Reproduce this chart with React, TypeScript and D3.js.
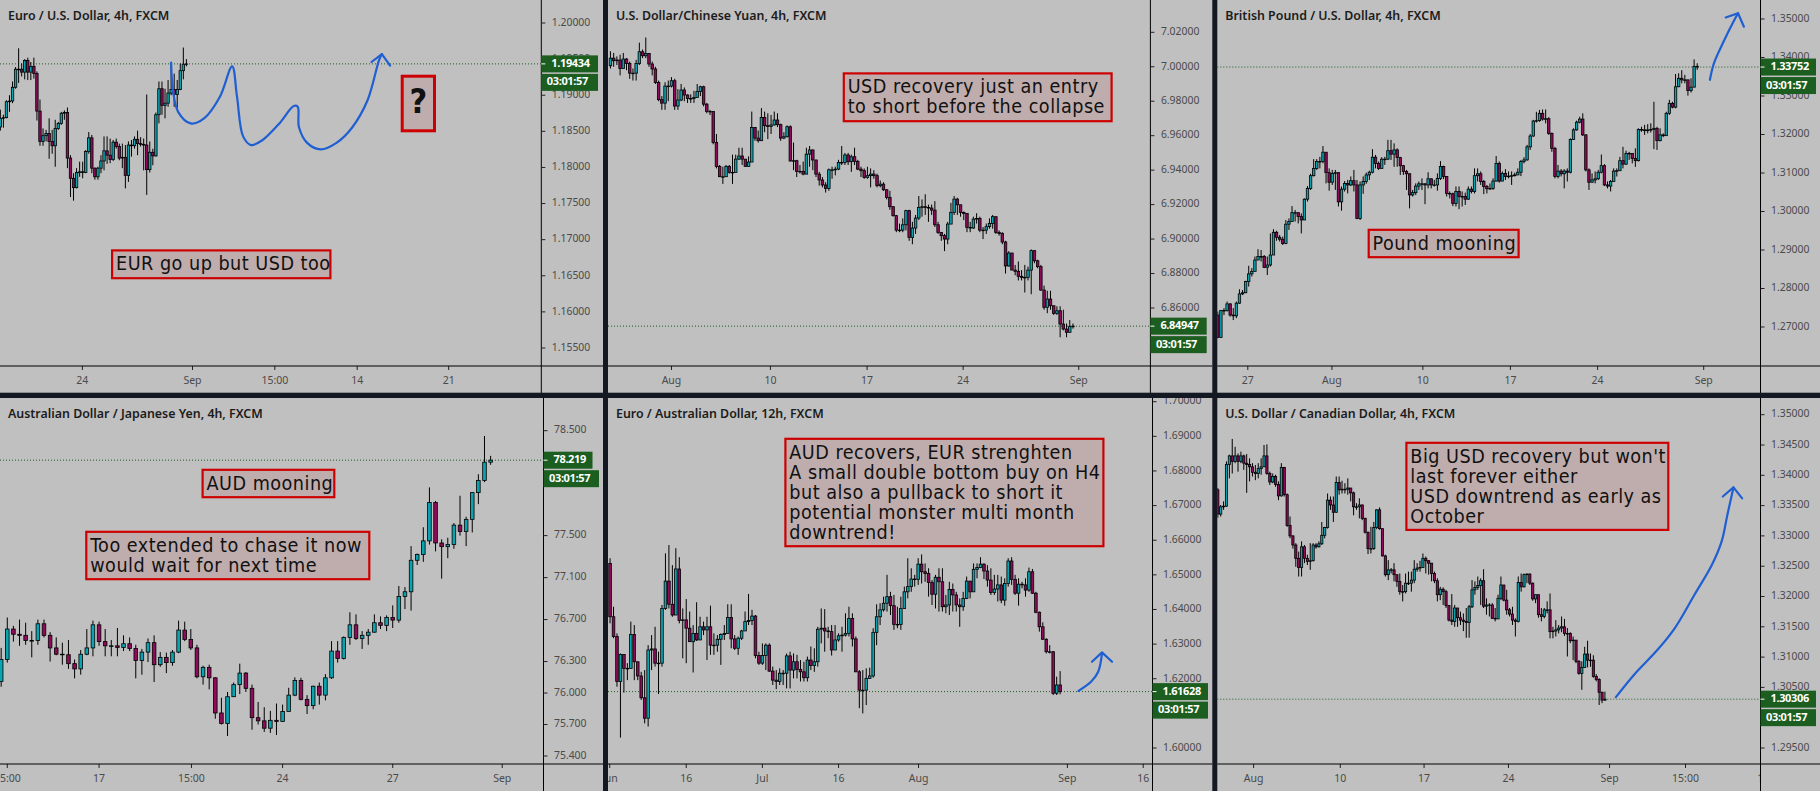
import * as d3 from "d3";

// ── Tokens ────────────────────────────────────────────────────────────────────

const BG = "#c0c0c0";
const DARK = "#141823";
const UP = "#0aa3b0";
const DOWN = "#8f0a5a";
const GREEN = "#1b5e20";
const BLUE = "#1f5fd2";
const RED = "#cc0000";
const NOTE_BG = "#bfadad";
const AXIS_TEXT = "#4a4a4a";
const SANS = "'Noto Sans', sans-serif";
const NOTE_FONT = "'DejaVu Sans Condensed', 'DejaVu Sans', sans-serif";
const COUNTDOWN = "03:01:57";

// ── EUR/USD 4h ────────────────────────────────────────────────────────────────

const eurOpen = 1.1856;
const eurClose = [
  1.1868, 1.1869, 1.1891, 1.1892, 1.1911, 1.1936, 1.1936, 1.1932, 1.1948, 1.1932,
  1.194, 1.193, 1.1878, 1.1836, 1.1844, 1.1847, 1.1836, 1.183, 1.1854, 1.1861,
  1.1875, 1.1876, 1.1813, 1.1785, 1.1772, 1.1793, 1.1794, 1.1793, 1.1822, 1.1841,
  1.1799, 1.1787, 1.1799, 1.1809, 1.1823, 1.1817, 1.1811, 1.1835, 1.1829, 1.1813,
  1.1814, 1.1789, 1.1831, 1.183, 1.1839, 1.1833, 1.1832, 1.1831, 1.1797, 1.1821,
  1.1816, 1.1873, 1.1909, 1.1886, 1.1889, 1.1903, 1.1908, 1.1901, 1.1908, 1.1934,
  1.1943, 1.19434,
];
const eurHigh = [
  1.188, 1.1873, 1.1893, 1.19, 1.1919, 1.1939, 1.1965, 1.1944, 1.195, 1.1952,
  1.1946, 1.1952, 1.1933, 1.1894, 1.1854, 1.1852, 1.1868, 1.1852, 1.1866, 1.1863,
  1.1877, 1.1879, 1.1883, 1.1817, 1.1792, 1.1799, 1.1808, 1.1808, 1.1824, 1.1849,
  1.1845, 1.18, 1.1801, 1.1817, 1.1843, 1.1843, 1.184, 1.1838, 1.184, 1.1833,
  1.1833, 1.1831, 1.1836, 1.1838, 1.1843, 1.1851, 1.1842, 1.184, 1.1901, 1.1836,
  1.1826, 1.1876, 1.1919, 1.1919, 1.1909, 1.1921, 1.1945, 1.193, 1.1921, 1.1944,
  1.1966, 1.195,
];
const eurLow = [
  1.1851, 1.1855, 1.1868, 1.1877, 1.1889, 1.1909, 1.1917, 1.1926, 1.1922, 1.1921,
  1.1921, 1.1923, 1.1865, 1.183, 1.183, 1.1836, 1.1812, 1.1819, 1.1801, 1.1852,
  1.1859, 1.1866, 1.1799, 1.1759, 1.1754, 1.1771, 1.1787, 1.1785, 1.1792, 1.1819,
  1.1792, 1.1783, 1.1783, 1.1792, 1.1796, 1.1805, 1.1806, 1.1809, 1.1826, 1.181,
  1.1799, 1.1771, 1.178, 1.1815, 1.1826, 1.1817, 1.1829, 1.1796, 1.1762, 1.1793,
  1.1803, 1.1815, 1.1861, 1.1873, 1.1868, 1.1884, 1.19, 1.1884, 1.1882, 1.1907,
  1.1922, 1.194,
];
const eurPriceTicks = [1.2, 1.195, 1.19, 1.185, 1.18, 1.175, 1.17, 1.165, 1.16, 1.155];
const eurTimeLabels = ["24", "Sep", "15:00", "14", "21"];
const eurTimeBars = [26.9, 63, 90, 117, 147];
const eurPathBars = [56, 56.6, 58.3, 62.4, 66.8, 72, 76, 77.6, 79.6, 82.2, 86, 91.7, 96.2, 97.5, 97.9, 100.6, 105.1, 110.2, 115.3, 120.4, 124.2, 125.1];
const eurPathPrices = [1.1945, 1.1907, 1.1877, 1.1861, 1.1868, 1.1898, 1.194, 1.1898, 1.1843, 1.1831, 1.1838, 1.1862, 1.1885, 1.1884, 1.1856, 1.1834, 1.1825, 1.1834, 1.1855, 1.1893, 1.1949, 1.1957];
const eurHeadBars = [121.7, 125.1, 127.8];
const eurHeadPrices = [1.1946, 1.1957, 1.1941];

// ── USD/CNH 4h ────────────────────────────────────────────────────────────────

const cnhOpen = 7.0006;
const cnhClose = [
  7.005, 7.0035, 7.0039, 6.999, 7.0045, 7.0019, 6.9963, 6.9963, 7.0019, 7.0087,
  7.0064, 7.0077, 7.0016, 6.9987, 6.9909, 6.9809, 6.9789, 6.9888, 6.9888, 6.9919,
  6.9772, 6.9807, 6.9865, 6.9836, 6.9816, 6.9816, 6.9822, 6.9857, 6.9884, 6.9783,
  6.9741, 6.9741, 6.9561, 6.9422, 6.9362, 6.9362, 6.9422, 6.9387, 6.9387, 6.9464,
  6.9482, 6.9464, 6.9422, 6.9447, 6.9648, 6.9586, 6.9571, 6.9706, 6.9658, 6.9654,
  6.9662, 6.9691, 6.9664, 6.9586, 6.9594, 6.9652, 6.9453, 6.9455, 6.9393, 6.9393,
  6.9377, 6.9493, 6.9517, 6.9459, 6.9377, 6.9343, 6.9314, 6.9294, 6.9402, 6.9402,
  6.9406, 6.9445, 6.9445, 6.9488, 6.9449, 6.9478, 6.9451, 6.9406, 6.9397, 6.9358,
  6.9368, 6.9377, 6.9368, 6.931, 6.9319, 6.9286, 6.9242, 6.9188, 6.9136, 6.9052,
  6.9052, 6.9083, 6.9165, 6.901, 6.9064, 6.9122, 6.9184, 6.9188, 6.9184, 6.918,
  6.9168, 6.9083, 6.9039, 6.902, 6.9, 6.9087, 6.9155, 6.9232, 6.9199, 6.9155,
  6.9149, 6.9068, 6.9064, 6.9116, 6.912, 6.9052, 6.9052, 6.9072, 6.9091, 6.913,
  6.9039, 6.9033, 6.8983, 6.8844, 6.8919, 6.882, 6.8813, 6.8784, 6.8778, 6.8778,
  6.882, 6.8933, 6.8874, 6.884, 6.8704, 6.8604, 6.8652, 6.8613, 6.8569, 6.8584,
  6.8507, 6.8478, 6.8459, 6.8492, 6.84947,
];
const cnhHigh = [
  7.009, 7.008, 7.006, 7.007, 7.008, 7.005, 7.003, 6.999, 7.004, 7.014,
  7.01, 7.017, 7.008, 7.003, 7.0, 6.992, 6.983, 6.991, 6.992, 6.994,
  6.993, 6.987, 6.99, 6.988, 6.984, 6.984, 6.986, 6.99, 6.989, 6.989,
  6.979, 6.975, 6.974, 6.961, 6.943, 6.942, 6.943, 6.943, 6.949, 6.949,
  6.953, 6.953, 6.945, 6.948, 6.974, 6.965, 6.963, 6.976, 6.974, 6.973,
  6.972, 6.974, 6.973, 6.967, 6.962, 6.966, 6.966, 6.956, 6.946, 6.943,
  6.945, 6.953, 6.954, 6.952, 6.946, 6.939, 6.936, 6.933, 6.941, 6.942,
  6.942, 6.946, 6.954, 6.95, 6.95, 6.949, 6.953, 6.946, 6.942, 6.941,
  6.942, 6.941, 6.94, 6.938, 6.934, 6.933, 6.929, 6.928, 6.919, 6.914,
  6.909, 6.912, 6.917, 6.917, 6.91, 6.914, 6.925, 6.923, 6.926, 6.92,
  6.92, 6.922, 6.91, 6.904, 6.903, 6.91, 6.921, 6.925, 6.924, 6.919,
  6.916, 6.915, 6.91, 6.913, 6.915, 6.913, 6.907, 6.909, 6.912, 6.914,
  6.913, 6.905, 6.904, 6.899, 6.893, 6.892, 6.885, 6.887, 6.882, 6.885,
  6.884, 6.894, 6.893, 6.888, 6.885, 6.873, 6.87, 6.87, 6.861, 6.861,
  6.861, 6.859, 6.851, 6.853, 6.851,
];
const cnhLow = [
  6.999, 7.0, 7.001, 6.995, 6.999, 6.998, 6.993, 6.992, 6.992, 7.001,
  7.005, 7.005, 7.0, 6.995, 6.99, 6.98, 6.975, 6.975, 6.98, 6.988,
  6.975, 6.975, 6.98, 6.98, 6.979, 6.979, 6.979, 6.982, 6.983, 6.977,
  6.973, 6.972, 6.955, 6.941, 6.936, 6.932, 6.938, 6.938, 6.932, 6.939,
  6.946, 6.943, 6.942, 6.942, 6.945, 6.957, 6.956, 6.957, 6.962, 6.958,
  6.961, 6.966, 6.965, 6.957, 6.958, 6.959, 6.945, 6.94, 6.936, 6.938,
  6.937, 6.938, 6.942, 6.94, 6.936, 6.931, 6.93, 6.927, 6.928, 6.935,
  6.937, 6.94, 6.943, 6.943, 6.943, 6.939, 6.943, 6.94, 6.936, 6.935,
  6.935, 6.93, 6.935, 6.93, 6.93, 6.928, 6.923, 6.917, 6.913, 6.904,
  6.904, 6.904, 6.905, 6.899, 6.897, 6.903, 6.911, 6.913, 6.914, 6.91,
  6.914, 6.907, 6.903, 6.899, 6.893, 6.897, 6.909, 6.914, 6.914, 6.913,
  6.911, 6.904, 6.904, 6.906, 6.909, 6.904, 6.9, 6.903, 6.906, 6.906,
  6.903, 6.902, 6.897, 6.88, 6.884, 6.882, 6.879, 6.876, 6.876, 6.869,
  6.876, 6.868, 6.886, 6.883, 6.87, 6.859, 6.857, 6.859, 6.856, 6.856,
  6.843, 6.847, 6.843, 6.846, 6.848,
];
const cnhPriceTicks = [7.02, 7.0, 6.98, 6.96, 6.94, 6.92, 6.9, 6.88, 6.86];
const cnhTimeLabels = ["Aug", "10", "17", "24", "Sep"];
const cnhTimeBars = [19, 49.8, 79.9, 109.8, 145.8];

// ── GBP/USD 4h ────────────────────────────────────────────────────────────────

const gbpOpen = 1.2731;
const gbpClose = [
  1.2673, 1.2743, 1.2743, 1.276, 1.2731, 1.2729, 1.2762, 1.2786, 1.2789, 1.2818,
  1.2838, 1.2844, 1.2874, 1.2883, 1.2883, 1.2855, 1.2861, 1.2887, 1.2946, 1.2933,
  1.2928, 1.2917, 1.2967, 1.2974, 1.2997, 1.2997, 1.2987, 1.2978, 1.3032, 1.306,
  1.3093, 1.3112, 1.313, 1.313, 1.3154, 1.3101, 1.3076, 1.3099, 1.3101, 1.3025,
  1.3058, 1.3073, 1.3069, 1.308, 1.3069, 1.2982, 1.3069, 1.3078, 1.3095, 1.3102,
  1.3141, 1.3125, 1.3112, 1.3136, 1.3136, 1.3158, 1.3149, 1.316, 1.314, 1.3119,
  1.3104, 1.3098, 1.3043, 1.3049, 1.3066, 1.3072, 1.3072, 1.3069, 1.3085, 1.3069,
  1.3069, 1.3086, 1.3117, 1.3091, 1.3047, 1.3046, 1.3021, 1.3052, 1.3039, 1.3039,
  1.3032, 1.3058, 1.3052, 1.3093, 1.3098, 1.3078, 1.3065, 1.3059, 1.306, 1.3079,
  1.3125, 1.3079, 1.3099, 1.3091, 1.3092, 1.3093, 1.3095, 1.3102, 1.313, 1.3134,
  1.3168, 1.3196, 1.3235, 1.3236, 1.3255, 1.324, 1.3241, 1.3203, 1.3164, 1.3091,
  1.3105, 1.3098, 1.3105, 1.3102, 1.3187, 1.3212, 1.3232, 1.324, 1.3199, 1.3108,
  1.3076, 1.3082, 1.3085, 1.3102, 1.3119, 1.3069, 1.3066, 1.3078, 1.3105, 1.3106,
  1.3132, 1.3123, 1.3151, 1.3151, 1.3138, 1.3132, 1.3213, 1.3212, 1.321, 1.3212,
  1.3213, 1.3216, 1.3184, 1.3199, 1.3197, 1.3255, 1.3281, 1.3271, 1.3324, 1.3346,
  1.3342, 1.3342, 1.3314, 1.3323, 1.3377, 1.33752,
];
const gbpHigh = [
  1.274, 1.2744, 1.2749, 1.2766, 1.2762, 1.2749, 1.2766, 1.2798, 1.2796, 1.282,
  1.2859, 1.2853, 1.2883, 1.2902, 1.29, 1.2887, 1.2883, 1.2943, 1.2954, 1.295,
  1.2939, 1.2935, 1.2978, 1.2982, 1.3014, 1.3004, 1.2995, 1.2995, 1.3034, 1.3066,
  1.3098, 1.3136, 1.3136, 1.3142, 1.317, 1.3153, 1.3112, 1.3108, 1.3108, 1.3101,
  1.3065, 1.3079, 1.3082, 1.3091, 1.3108, 1.3082, 1.3078, 1.3091, 1.3101, 1.3106,
  1.3162, 1.3147, 1.313, 1.3141, 1.3142, 1.3186, 1.3186, 1.3177, 1.3164, 1.3142,
  1.3121, 1.3108, 1.3099, 1.3056, 1.3073, 1.3078, 1.3086, 1.3073, 1.3102, 1.3086,
  1.3082, 1.3099, 1.3131, 1.3119, 1.3092, 1.3052, 1.3049, 1.3065, 1.3065, 1.3052,
  1.3049, 1.3065, 1.3065, 1.3112, 1.3112, 1.3104, 1.3082, 1.3069, 1.3073, 1.3086,
  1.3144, 1.313, 1.3104, 1.311, 1.3104, 1.3104, 1.3101, 1.3112, 1.3134, 1.3141,
  1.3173, 1.3201, 1.3238, 1.3259, 1.3264, 1.3265, 1.3265, 1.3245, 1.3205, 1.3168,
  1.3121, 1.311, 1.311, 1.3112, 1.319, 1.3216, 1.3236, 1.3246, 1.3255, 1.3201,
  1.3112, 1.3099, 1.3104, 1.3108, 1.3148, 1.3123, 1.3078, 1.3082, 1.3112, 1.3112,
  1.3142, 1.3168, 1.3158, 1.3155, 1.3151, 1.3164, 1.3216, 1.322, 1.3225, 1.3227,
  1.3229, 1.3285, 1.322, 1.3216, 1.3203, 1.3259, 1.329, 1.3285, 1.3357, 1.3359,
  1.3367, 1.3355, 1.3342, 1.3346, 1.3395, 1.3385,
];
const gbpLow = [
  1.2671, 1.2673, 1.2731, 1.274, 1.2727, 1.2718, 1.2723, 1.276, 1.2783, 1.2788,
  1.2805, 1.2831, 1.2853, 1.2874, 1.287, 1.2853, 1.2835, 1.2857, 1.2887, 1.2924,
  1.2922, 1.2913, 1.2915, 1.2952, 1.2974, 1.2974, 1.2969, 1.2943, 1.2978, 1.3026,
  1.3056, 1.3091, 1.3108, 1.3112, 1.3125, 1.3073, 1.3054, 1.3069, 1.3056, 1.3013,
  1.3002, 1.3052, 1.3047, 1.3066, 1.3052, 1.298, 1.2978, 1.3046, 1.3072, 1.3082,
  1.3099, 1.3112, 1.3108, 1.3112, 1.3121, 1.3134, 1.3134, 1.3116, 1.3116, 1.3095,
  1.3095, 1.3056, 1.3008, 1.3039, 1.3043, 1.3056, 1.3056, 1.3019, 1.306, 1.306,
  1.3065, 1.3054, 1.3082, 1.3084, 1.3039, 1.3034, 1.3014, 1.3013, 1.3006, 1.3013,
  1.3017, 1.303, 1.3047, 1.3047, 1.3078, 1.3069, 1.3045, 1.3047, 1.3056, 1.3056,
  1.3078, 1.3075, 1.3082, 1.3082, 1.3086, 1.3069, 1.3091, 1.3098, 1.3092, 1.3125,
  1.3132, 1.316, 1.3194, 1.3231, 1.3233, 1.3236, 1.3229, 1.3199, 1.3155, 1.3086,
  1.3086, 1.3091, 1.306, 1.3078, 1.3099, 1.3186, 1.321, 1.3229, 1.3196, 1.3104,
  1.3056, 1.3075, 1.3073, 1.3082, 1.3099, 1.3066, 1.306, 1.3052, 1.3078, 1.3091,
  1.3108, 1.3112, 1.3121, 1.3134, 1.3125, 1.3116, 1.313, 1.3207, 1.3199, 1.3203,
  1.3205, 1.3162, 1.316, 1.3182, 1.3193, 1.3196, 1.3251, 1.3268, 1.3268, 1.3323,
  1.3333, 1.3333, 1.3301, 1.3309, 1.3323, 1.3368,
];
const gbpPriceTicks = [1.35, 1.34, 1.33, 1.32, 1.31, 1.3, 1.29, 1.28, 1.27];
const gbpTimeLabels = ["27", "Aug", "10", "17", "24", "Sep"];
const gbpTimeBars = [9.7, 36.9, 66.3, 94.6, 122.8, 157.1];
const gbpPathBars = [159.1, 160.4, 163.5, 166.7, 168.2];
const gbpPathPrices = [1.3342, 1.3385, 1.3441, 1.3493, 1.3515];
const gbpHeadBars = [164.2, 168.2, 170.1];
const gbpHeadPrices = [1.3504, 1.3515, 1.348];

// ── AUD/JPY 4h ────────────────────────────────────────────────────────────────

const audOpen = 76.11;
const audClose = [
  76.32, 76.61, 76.56, 76.55, 76.5, 76.5, 76.66, 76.55, 76.43, 76.37,
  76.365, 76.28, 76.23, 76.37, 76.43, 76.65, 76.49, 76.45, 76.45, 76.435,
  76.47, 76.425, 76.31, 76.39, 76.48, 76.27, 76.34, 76.29, 76.39, 76.6,
  76.51, 76.43, 76.155, 76.245, 76.145, 75.81, 75.71, 75.965, 76.08, 76.19,
  76.045, 75.765, 75.735, 75.665, 75.74, 75.73, 75.825, 75.98, 76.12, 75.94,
  75.88, 76.065, 75.98, 76.145, 76.4, 76.33, 76.53, 76.65, 76.52, 76.55,
  76.58, 76.67, 76.645, 76.72, 76.695, 76.92, 76.965, 77.265, 77.32, 77.45,
  77.815, 77.43, 77.395, 77.415, 77.6, 77.54, 77.655, 77.91, 78.025, 78.2, 78.219,
];
const audHigh = [
  76.43, 76.72, 76.64, 76.7, 76.67, 76.59, 76.7, 76.7, 76.58, 76.53,
  76.48, 76.505, 76.32, 76.41, 76.61, 76.69, 76.68, 76.61, 76.505, 76.62,
  76.55, 76.53, 76.46, 76.42, 76.52, 76.55, 76.39, 76.385, 76.41, 76.69,
  76.68, 76.61, 76.46, 76.26, 76.27, 76.15, 75.955, 76.01, 76.1, 76.28,
  76.2, 76.08, 75.915, 75.865, 75.83, 75.9, 75.89, 76.05, 76.15, 76.145,
  75.98, 76.07, 76.1, 76.18, 76.495, 76.495, 76.54, 76.77, 76.75, 76.59,
  76.61, 76.75, 76.73, 76.74, 76.835, 77.02, 77.01, 77.4, 77.33, 77.58,
  77.96, 77.83, 77.465, 77.48, 77.62, 77.88, 77.68, 77.915, 78.085, 78.45, 78.26,
];
const audLow = [
  76.06, 76.29, 76.49, 76.45, 76.46, 76.34, 76.46, 76.53, 76.3, 76.36,
  76.27, 76.23, 76.14, 76.175, 76.36, 76.35, 76.45, 76.35, 76.35, 76.35,
  76.4, 76.4, 76.14, 76.175, 76.295, 76.105, 76.25, 76.19, 76.26, 76.38,
  76.495, 76.41, 76.14, 76.08, 76.035, 75.755, 75.7, 75.59, 75.965, 75.99,
  76.01, 75.65, 75.7, 75.63, 75.62, 75.6, 75.725, 75.825, 75.97, 75.93,
  75.8, 75.845, 75.89, 75.93, 76.135, 76.29, 76.32, 76.46, 76.505, 76.42,
  76.46, 76.575, 76.61, 76.59, 76.62, 76.67, 76.8, 76.785, 77.22, 77.25,
  77.415, 77.35, 77.09, 77.285, 77.375, 77.5, 77.4, 77.53, 77.8, 78.01, 78.175,
];
const audPriceTicks = [78.5, 77.5, 77.1, 76.7, 76.3, 76.0, 75.7, 75.4];
const audTimeLabels = ["15:00", "17", "15:00", "24", "27", "Sep"];
const audTimeBars = [1, 16, 31.1, 46, 64, 81.9];

// ── EUR/AUD 12h ───────────────────────────────────────────────────────────────

const euaOpen = 1.6533;
const euaClose = [
  1.6379, 1.6322, 1.6192, 1.627, 1.623, 1.623, 1.6328, 1.6249, 1.6208, 1.6145,
  1.6086, 1.6283, 1.6286, 1.6245, 1.6245, 1.6403, 1.6482, 1.6415, 1.6384, 1.6517,
  1.6368, 1.637, 1.6346, 1.6307, 1.6331, 1.6312, 1.635, 1.6341, 1.635, 1.6297,
  1.6297, 1.6314, 1.6328, 1.6331, 1.6377, 1.6315, 1.6288, 1.6317, 1.6338, 1.6365,
  1.6368, 1.6381, 1.6267, 1.6245, 1.6267, 1.6297, 1.6222, 1.6196, 1.6192, 1.6216,
  1.6216, 1.6266, 1.6225, 1.6249, 1.6227, 1.622, 1.6203, 1.6254, 1.6238, 1.6249,
  1.6343, 1.6346, 1.6338, 1.6336, 1.6283, 1.6312, 1.6324, 1.6326, 1.6331, 1.6374,
  1.6315, 1.622, 1.6167, 1.6167, 1.6201, 1.6208, 1.6334, 1.6379, 1.6399, 1.6418,
  1.6437, 1.6411, 1.6357, 1.6357, 1.6403, 1.6451, 1.6466, 1.6488, 1.6487, 1.6531,
  1.6509, 1.6504, 1.6478, 1.6444, 1.6493, 1.648, 1.6408, 1.6413, 1.6458, 1.6442,
  1.6413, 1.6408, 1.6432, 1.6482, 1.6451, 1.6516, 1.6521, 1.6531, 1.6511, 1.6485,
  1.6449, 1.6459, 1.6471, 1.6427, 1.6475, 1.654, 1.6487, 1.6447, 1.6473, 1.6471,
  1.6456, 1.6509, 1.6447, 1.6392, 1.635, 1.6314, 1.6278, 1.6278, 1.6158, 1.6182,
  1.61628,
];
const euaHigh = [
  1.6548, 1.6408, 1.6331, 1.6273, 1.627, 1.6245, 1.6365, 1.6355, 1.6249, 1.622,
  1.6225, 1.6297, 1.6326, 1.635, 1.6278, 1.6413, 1.6562, 1.6586, 1.6528, 1.6577,
  1.6551, 1.6403, 1.643, 1.6394, 1.6355, 1.6421, 1.6379, 1.6365, 1.6379, 1.6411,
  1.6331, 1.6326, 1.6331, 1.6355, 1.6415, 1.6415, 1.6326, 1.6322, 1.6341, 1.6394,
  1.6445, 1.6399, 1.6384, 1.6278, 1.6302, 1.6302, 1.6302, 1.6235, 1.6225, 1.623,
  1.6225, 1.6273, 1.6278, 1.6273, 1.6269, 1.6254, 1.6249, 1.6264, 1.6293, 1.6288,
  1.635, 1.6403, 1.6401, 1.635, 1.6355, 1.6355, 1.6331, 1.635, 1.6389, 1.6408,
  1.6389, 1.6322, 1.6225, 1.6225, 1.623, 1.6232, 1.6346, 1.6415, 1.6418, 1.6437,
  1.65, 1.6451, 1.6442, 1.6408, 1.6437, 1.6466, 1.6548, 1.6519, 1.65, 1.6548,
  1.6559, 1.6533, 1.6519, 1.6485, 1.65, 1.6519, 1.6519, 1.6442, 1.648, 1.6475,
  1.6451, 1.6432, 1.6451, 1.6495, 1.6482, 1.6533, 1.6533, 1.6551, 1.6533, 1.6528,
  1.6519, 1.65, 1.65, 1.6495, 1.649, 1.6548, 1.6551, 1.65, 1.649, 1.648,
  1.649, 1.6521, 1.6517, 1.6451, 1.6394, 1.6363, 1.6317, 1.6297, 1.628, 1.6206,
  1.6222,
];
const euaLow = [
  1.636, 1.6317, 1.6177, 1.603, 1.616, 1.6196, 1.624, 1.6196, 1.6196, 1.6139,
  1.6071, 1.6062, 1.6225, 1.6235, 1.6156, 1.6235, 1.6399, 1.6403, 1.6379, 1.6403,
  1.636, 1.6259, 1.6245, 1.6307, 1.6218, 1.6309, 1.6312, 1.6326, 1.6254, 1.6269,
  1.6269, 1.6278, 1.624, 1.6312, 1.6331, 1.6288, 1.6283, 1.6269, 1.6312, 1.6341,
  1.6355, 1.6355, 1.6259, 1.624, 1.624, 1.6225, 1.622, 1.6182, 1.617, 1.6182,
  1.6182, 1.6172, 1.6172, 1.6201, 1.6201, 1.6192, 1.6192, 1.6192, 1.6225, 1.622,
  1.6235, 1.6302, 1.6278, 1.6317, 1.6267, 1.6283, 1.6307, 1.6278, 1.6322, 1.6322,
  1.6293, 1.6219, 1.6115, 1.61, 1.6124, 1.6201, 1.6203, 1.6297, 1.6355, 1.6394,
  1.6394, 1.6384, 1.6341, 1.6346, 1.6341, 1.6403, 1.6432, 1.6451, 1.6466, 1.6471,
  1.6475, 1.648, 1.6437, 1.6413, 1.6403, 1.6394, 1.6394, 1.6389, 1.6384, 1.6394,
  1.6394, 1.635, 1.6396, 1.643, 1.6432, 1.6451, 1.649, 1.6519, 1.6488, 1.6466,
  1.6442, 1.6442, 1.6423, 1.6418, 1.6411, 1.6466, 1.6471, 1.6442, 1.6411, 1.6461,
  1.6437, 1.6451, 1.6445, 1.6389, 1.6336, 1.6312, 1.6273, 1.6273, 1.6153, 1.6153,
  1.6155,
];
const euaPriceTicks = [1.7, 1.69, 1.68, 1.67, 1.66, 1.65, 1.64, 1.63, 1.62, 1.6];
const euaTimeLabels = ["Jun", "16", "Jul", "16", "Aug", "Sep", "16"];
const euaTimeBars = [-0.1, 22, 44, 66, 89.1, 132.1, 154];
const euaPathBars = [135.3, 139, 141, 142.1];
const euaPathPrices = [1.6165, 1.6192, 1.622, 1.6273];
const euaHeadBars = [139.2, 142.1, 145];
const euaHeadPrices = [1.6249, 1.6276, 1.6249];

// ── USD/CAD 4h ────────────────────────────────────────────────────────────────

const cadOpen = 1.3376;
const cadClose = [
  1.3336, 1.3348, 1.3349, 1.3418, 1.3432, 1.3423, 1.3432, 1.3423, 1.3432, 1.342,
  1.3418, 1.3414, 1.3405, 1.3403, 1.3411, 1.3414, 1.3432, 1.3403, 1.3389, 1.3398,
  1.3385, 1.3366, 1.3413, 1.3368, 1.3317, 1.33, 1.3285, 1.3263, 1.3248, 1.3282,
  1.3263, 1.3258, 1.3259, 1.3285, 1.3282, 1.3287, 1.3301, 1.3314, 1.3359, 1.3351,
  1.3339, 1.3388, 1.3376, 1.3377, 1.3377, 1.3379, 1.3371, 1.3348, 1.3348, 1.3351,
  1.3329, 1.3306, 1.3279, 1.3279, 1.3314, 1.3343, 1.3312, 1.3267, 1.3236, 1.3244,
  1.3244, 1.3236, 1.3225, 1.3208, 1.3208, 1.3222, 1.3222, 1.3227, 1.3245, 1.3247,
  1.3248, 1.3263, 1.3259, 1.3255, 1.3238, 1.3226, 1.3203, 1.3212, 1.3208, 1.3185,
  1.3161, 1.3159, 1.3181, 1.3165, 1.3161, 1.3159, 1.3157, 1.3183, 1.3211, 1.3215,
  1.3218, 1.3226, 1.3184, 1.3186, 1.3186, 1.3164, 1.3163, 1.3197, 1.3219, 1.3194,
  1.3178, 1.3171, 1.3161, 1.3159, 1.3223, 1.3216, 1.3236, 1.3237, 1.3222, 1.3196,
  1.3203, 1.317, 1.3167, 1.3178, 1.3178, 1.3142, 1.3143, 1.3145, 1.3148, 1.315,
  1.3139, 1.3139, 1.3127, 1.3128, 1.3093, 1.3073, 1.3083, 1.3105, 1.3095, 1.3095,
  1.3068, 1.3063, 1.3042, 1.3029, 1.30306,
];
const cadHigh = [
  1.3379, 1.3351, 1.3357, 1.3423, 1.3434, 1.346, 1.3447, 1.3436, 1.3439, 1.3434,
  1.3435, 1.3428, 1.342, 1.3417, 1.342, 1.3428, 1.345, 1.3451, 1.3406, 1.3403,
  1.3401, 1.339, 1.342, 1.3414, 1.337, 1.3332, 1.3301, 1.3288, 1.3274, 1.3291,
  1.3285, 1.3269, 1.3288, 1.3288, 1.3288, 1.3291, 1.3323, 1.3315, 1.337, 1.3365,
  1.3365, 1.3398, 1.3398, 1.3391, 1.3387, 1.3395, 1.3379, 1.3373, 1.3354, 1.3362,
  1.3352, 1.333, 1.3307, 1.3315, 1.3323, 1.3344, 1.3347, 1.3312, 1.3269, 1.326,
  1.3247, 1.3255, 1.3236, 1.3238, 1.3219, 1.3238, 1.3241, 1.3241, 1.326, 1.3255,
  1.3259, 1.3271, 1.3266, 1.326, 1.3255, 1.3241, 1.323, 1.3216, 1.3215, 1.3211,
  1.3186, 1.3204, 1.3186, 1.3181, 1.3175, 1.3172, 1.3181, 1.3186, 1.3227, 1.3225,
  1.3233, 1.323, 1.3245, 1.3197, 1.3189, 1.3189, 1.3181, 1.3203, 1.3233, 1.3219,
  1.3211, 1.3181, 1.3183, 1.3164, 1.3233, 1.3238, 1.3238, 1.3238, 1.3238, 1.3223,
  1.3203, 1.3203, 1.3181, 1.3181, 1.3192, 1.3205, 1.315, 1.3161, 1.3153, 1.3167,
  1.3163, 1.3148, 1.3141, 1.3134, 1.3128, 1.3095, 1.3093, 1.3117, 1.3127, 1.3106,
  1.3103, 1.3072, 1.3065, 1.3043, 1.3043,
];
const cadLow = [
  1.333, 1.3332, 1.3343, 1.3348, 1.3395, 1.3403, 1.342, 1.3406, 1.342, 1.3409,
  1.3371, 1.339, 1.3398, 1.3392, 1.3395, 1.3401, 1.3414, 1.3401, 1.3384, 1.3387,
  1.3381, 1.3359, 1.3365, 1.3365, 1.3315, 1.3296, 1.3279, 1.3249, 1.3233, 1.3233,
  1.3255, 1.3252, 1.3244, 1.3258, 1.3279, 1.3281, 1.3285, 1.3296, 1.3312, 1.3343,
  1.3323, 1.3338, 1.3368, 1.337, 1.337, 1.3368, 1.3357, 1.3334, 1.3343, 1.3329,
  1.3326, 1.3304, 1.327, 1.3271, 1.3277, 1.3311, 1.331, 1.3266, 1.3233, 1.3227,
  1.3238, 1.3225, 1.3216, 1.3203, 1.3192, 1.3205, 1.3219, 1.3208, 1.3222, 1.3241,
  1.3241, 1.3247, 1.3238, 1.3236, 1.3225, 1.3222, 1.3192, 1.3194, 1.3186, 1.3181,
  1.3159, 1.3153, 1.315, 1.315, 1.3153, 1.3143, 1.3132, 1.3132, 1.3181, 1.3203,
  1.3211, 1.3186, 1.3181, 1.317, 1.3167, 1.3163, 1.3159, 1.3164, 1.3194, 1.3192,
  1.317, 1.3167, 1.3153, 1.3134, 1.3157, 1.3208, 1.3215, 1.3222, 1.3219, 1.3193,
  1.3189, 1.3165, 1.3159, 1.3164, 1.3172, 1.3131, 1.3131, 1.3134, 1.3139, 1.3141,
  1.3135, 1.3101, 1.3123, 1.3095, 1.309, 1.3071, 1.3046, 1.3082, 1.3083, 1.3084,
  1.3066, 1.306, 1.3021, 1.3024, 1.3028,
];
const cadPriceTicks = [1.35, 1.345, 1.34, 1.335, 1.33, 1.325, 1.32, 1.315, 1.31, 1.305, 1.295];
const cadTimeLabels = ["Aug", "10", "17", "24", "Sep", "15:00", "14"];
const cadTimeBars = [12.4, 42.4, 71.4, 100.6, 135.6, 161.9, 188.8];
const cadPathBars = [137.8, 144.1, 152.2, 158.2, 165, 171, 174.4, 176.4, 178.5];
const cadPathPrices = [1.3034, 1.3071, 1.3112, 1.3148, 1.3203, 1.3252, 1.3291, 1.3335, 1.338];
const cadHeadBars = [174.8, 178.5, 181.5];
const cadHeadPrices = [1.3365, 1.338, 1.3362];

// ── Panel table, built from the arrays above ──────────────────────────────────

type Note = { x0: number; y0: number; x1: number; y1: number; lines: string[]; size?: number; centered?: boolean; weight?: number; border?: number };

const TOP_ROW = { top: 0, axisY: 366, bottom: 393, titleY: 17, labelY: 381 };
const BOTTOM_ROW = { top: 398, axisY: 764, bottom: 791, titleY: 414.5, labelY: 779 };

const PANELS = [
  {
    ...TOP_ROW, left: 0, axisX: 541.3, right: 603, title: "Euro / U.S. Dollar, 4h, FXCM",
    firstOpen: eurOpen, close: eurClose, high: eurHigh, low: eurLow,
    x0: 0.33, step: 3.05, bodyW: 2.4,
    ticks: eurPriceTicks, digits: 5, yA: [1.2, 23], yB: [1.155, 348],
    timeLabels: eurTimeLabels, timeBars: eurTimeBars, last: 1.19434, boxW: 56.7, timerW: 56.7,
    pathBars: eurPathBars, pathPrices: eurPathPrices, headBars: eurHeadBars, headPrices: eurHeadPrices,
    notes: [
      { x0: 111, y0: 249.3, x1: 331.5, y1: 279.3, lines: ["EUR go up but USD too"] },
      { x0: 400.7, y0: 74.7, x1: 436, y1: 132.3, lines: ["?"], size: 34, centered: true, weight: 700, border: 3 },
    ] as Note[],
  },
  {
    ...TOP_ROW, left: 608, axisX: 1150.4, right: 1212.3, title: "U.S. Dollar/Chinese Yuan, 4h, FXCM",
    firstOpen: cnhOpen, close: cnhClose, high: cnhHigh, low: cnhLow,
    x0: 610.45, step: 3.212, bodyW: 2.5,
    ticks: cnhPriceTicks, digits: 5, yA: [7.02, 32.3], yB: [6.86, 308],
    timeLabels: cnhTimeLabels, timeBars: cnhTimeBars, last: 6.84947, boxW: 56.3, timerW: 56.3,
    notes: [
      { x0: 842.7, y0: 72.3, x1: 1112.7, y1: 122.3, lines: ["USD recovery just an entry", "to short before the collapse"] },
    ] as Note[],
  },
  {
    ...TOP_ROW, left: 1217.3, axisX: 1760.5, right: 1820, title: "British Pound / U.S. Dollar, 4h, FXCM",
    firstOpen: gbpOpen, close: gbpClose, high: gbpHigh, low: gbpLow,
    x0: 1217.8, step: 3.093, bodyW: 2.4,
    ticks: gbpPriceTicks, digits: 5, yA: [1.35, 19], yB: [1.27, 327],
    timeLabels: gbpTimeLabels, timeBars: gbpTimeBars, last: 1.33752, boxW: 55.5, timerW: 55.5,
    pathBars: gbpPathBars, pathPrices: gbpPathPrices, headBars: gbpHeadBars, headPrices: gbpHeadPrices,
    notes: [
      { x0: 1367.6, y0: 228.7, x1: 1519.7, y1: 258.3, lines: ["Pound mooning"] },
    ] as Note[],
  },
  {
    ...BOTTOM_ROW, left: 0, axisX: 543.5, right: 603, title: "Australian Dollar / Japanese Yen, 4h, FXCM",
    firstOpen: audOpen, close: audClose, high: audHigh, low: audLow,
    x0: 1.17, step: 6.118, bodyW: 3.6,
    ticks: audPriceTicks, digits: 3, yA: [78.5, 430.7], yB: [75.4, 756],
    timeLabels: audTimeLabels, timeBars: audTimeBars, last: 78.219, boxW: 49, timerW: 55.5,
    notes: [
      { x0: 201.5, y0: 468.7, x1: 335.4, y1: 498.3, lines: ["AUD mooning"] },
      { x0: 85.2, y0: 530.7, x1: 370.4, y1: 580.3, lines: ["Too extended to chase it now", "would wait for next time"] },
    ] as Note[],
  },
  {
    ...BOTTOM_ROW, left: 608, axisX: 1152.5, right: 1212.3, title: "Euro / Australian Dollar, 12h, FXCM",
    firstOpen: euaOpen, close: euaClose, high: euaHigh, low: euaLow,
    x0: 610.06, step: 3.462, bodyW: 2.6,
    ticks: euaPriceTicks, digits: 5, yA: [1.7, 401.7], yB: [1.6, 748],
    timeLabels: euaTimeLabels, timeBars: euaTimeBars, last: 1.61628, boxW: 55.5, timerW: 55.5,
    pathBars: euaPathBars, pathPrices: euaPathPrices, headBars: euaHeadBars, headPrices: euaHeadPrices,
    notes: [
      {
        x0: 784.3, y0: 437.7, x1: 1104.5, y1: 547.3,
        lines: ["AUD recovers, EUR strenghten", "A small double bottom buy on H4", "but also a pullback to short it", "potential monster multi month", "downtrend!"],
      },
    ] as Note[],
  },
  {
    ...BOTTOM_ROW, left: 1217.3, axisX: 1760.5, right: 1820, title: "U.S. Dollar / Canadian Dollar, 4h, FXCM",
    firstOpen: cadOpen, close: cadClose, high: cadHigh, low: cadLow,
    x0: 1217.8, step: 2.889, bodyW: 2.2,
    ticks: cadPriceTicks, digits: 5, yA: [1.35, 414.7], yB: [1.295, 748],
    timeLabels: cadTimeLabels, timeBars: cadTimeBars, last: 1.30306, boxW: 55.5, timerW: 55.5,
    pathBars: cadPathBars, pathPrices: cadPathPrices, headBars: cadHeadBars, headPrices: cadHeadPrices,
    notes: [
      {
        x0: 1405.3, y0: 441.7, x1: 1669.4, y1: 531,
        lines: ["Big USD recovery but won't", "last forever either", "USD downtrend as early as", "October"],
      },
    ] as Note[],
  },
];

// ── Panel ─────────────────────────────────────────────────────────────────────

type PanelConfig = (typeof PANELS)[number] & { pathBars?: number[]; pathPrices?: number[]; headBars?: number[]; headPrices?: number[] };

function Panel({ p, id }: { p: PanelConfig; id: string }) {
  const x = d3.scaleLinear().domain([0, 1]).range([p.x0, p.x0 + p.step]);
  const y = d3.scaleLinear().domain([p.yA[0], p.yB[0]]).range([p.yA[1], p.yB[1]]);
  const fmt = d3.format(`.${p.digits}f`);

  const candles = p.close.map((c, i) => {
    const o = i === 0 ? p.firstOpen : p.close[i - 1];
    return { i, o, c, h: Math.max(p.high[i], o, c), l: Math.min(p.low[i], o, c) };
  });

  const curve = d3.line<number>()
    .x(i => x(p.pathBars![i]))
    .y(i => y(p.pathPrices![i]))
    .curve(d3.curveCatmullRom.alpha(0.5));
  const head = d3.line<number>()
    .x(i => x(p.headBars![i]))
    .y(i => y(p.headPrices![i]));

  const lastY = y(p.last);

  return (
    <g>
      <defs>
        <clipPath id={id}>
          <rect x={p.left} y={p.top} width={p.axisX - p.left} height={p.bottom - p.top} />
        </clipPath>
      </defs>

      <g clipPath={`url(#${id})`}>
        {/* last price line */}
        <line x1={p.left} x2={p.axisX} y1={lastY} y2={lastY} stroke={GREEN} strokeDasharray="1 2" />

        {/* candles */}
        {candles.map(d => {
          const top = y(Math.max(d.o, d.c));
          const h = Math.max(y(Math.min(d.o, d.c)) - top, 0.6);
          return (
            <g key={d.i}>
              <line x1={x(d.i)} x2={x(d.i)} y1={y(d.h)} y2={y(d.l)} stroke="#000" strokeWidth={1} />
              <rect
                x={x(d.i) - p.bodyW / 2}
                y={top}
                width={p.bodyW}
                height={h}
                fill={d.c >= d.o ? UP : DOWN}
                stroke="#000"
                strokeWidth={0.8}
              />
            </g>
          );
        })}

        {/* hand drawn projection */}
        {p.pathBars && (
          <g fill="none" stroke={BLUE} strokeWidth={2.2} strokeLinecap="round" strokeLinejoin="round">
            <path d={curve(d3.range(p.pathBars.length))!} />
            <path d={head(d3.range(p.headBars!.length))!} />
          </g>
        )}

        {/* time tick labels */}
        {p.timeLabels.map((t, i) => (
          <g key={i}>
            <line x1={x(p.timeBars[i])} x2={x(p.timeBars[i])} y1={p.axisY} y2={p.axisY + 4} stroke="#222" />
            <text
              x={x(p.timeBars[i])}
              y={p.labelY}
              textAnchor="middle"
              dominantBaseline="middle"
              fontFamily={SANS}
              fontSize={10.5}
              fill={AXIS_TEXT}
            >
              {t}
            </text>
          </g>
        ))}
      </g>

      {/* axes */}
      <line x1={p.left} x2={p.right} y1={p.axisY} y2={p.axisY} stroke="#000" />
      <line x1={p.axisX} x2={p.axisX} y1={p.top} y2={p.bottom} stroke="#000" />

      {/* price ticks */}
      {p.ticks.map(t => (
        <g key={t}>
          <line x1={p.axisX} x2={p.axisX + 4} y1={y(t)} y2={y(t)} stroke="#222" />
          <text
            x={p.axisX + 10.5}
            y={y(t)}
            dominantBaseline="middle"
            fontFamily={SANS}
            fontSize={10.4}
            fill={AXIS_TEXT}
          >
            {fmt(t)}
          </text>
        </g>
      ))}

      {/* last price + countdown */}
      <rect x={p.axisX} y={lastY - 8.5} width={p.boxW} height={17} fill={GREEN} />
      <line x1={p.axisX} x2={p.axisX + 4} y1={lastY} y2={lastY} stroke="#fff" />
      <text x={p.axisX + 10} y={lastY} dominantBaseline="middle" fontFamily={SANS} fontSize={11} fontWeight={700} letterSpacing={-0.35} fill="#fff">
        {fmt(p.last)}
      </text>
      <rect x={p.axisX} y={lastY + 10} width={p.timerW} height={17} fill={GREEN} />
      <text x={p.axisX + 5.5} y={lastY + 18.5} dominantBaseline="middle" fontFamily={SANS} fontSize={11} fontWeight={700} letterSpacing={-0.35} fill="#fff">
        {COUNTDOWN}
      </text>

      {/* title */}
      <text x={p.left + 8} y={p.titleY} dominantBaseline="middle" fontFamily={SANS} fontSize={12.4} fontWeight={600} fill="#1c1c1c">
        {p.title}
      </text>

      {/* notes */}
      {p.notes.map((n, i) => (
        <g key={i}>
          <rect
            x={n.x0 + (n.border ?? 2.2) / 2}
            y={n.y0 + (n.border ?? 2.2) / 2}
            width={n.x1 - n.x0 - (n.border ?? 2.2)}
            height={n.y1 - n.y0 - (n.border ?? 2.2)}
            fill={NOTE_BG}
            stroke={RED}
            strokeWidth={n.border ?? 2.2}
          />
          {n.lines.map((line, j) => (
            <text
              key={j}
              x={n.centered ? (n.x0 + n.x1) / 2 : n.x0 + 5}
              y={n.centered ? (n.y0 + n.y1) / 2 : n.y0 + 15.3 + j * 20}
              textAnchor={n.centered ? "middle" : "start"}
              dominantBaseline="middle"
              fontFamily={NOTE_FONT}
              fontSize={n.size ?? 19.6}
              fontWeight={n.weight ?? 400}
              letterSpacing={n.centered ? 0 : 0.5}
              fill="#111"
            >
              {line}
            </text>
          ))}
        </g>
      ))}
    </g>
  );
}

// ── Main export ───────────────────────────────────────────────────────────────

export default function App() {
  return (
    <svg
      width={1820}
      height={791}
      viewBox="0 0 1820 791"
      style={{ position: "absolute", left: 0, top: 0, display: "block", background: BG }}
    >
      <rect width={1820} height={791} fill={BG} />
      {PANELS.map((p, i) => (
        <Panel key={i} p={p as PanelConfig} id={`plot-${i}`} />
      ))}
      {/* window dividers */}
      <rect x={0} y={392.7} width={1820} height={5.3} fill={DARK} />
      <rect x={603} y={0} width={5} height={791} fill={DARK} />
      <rect x={1212.3} y={0} width={5} height={791} fill={DARK} />
    </svg>
  );
}
